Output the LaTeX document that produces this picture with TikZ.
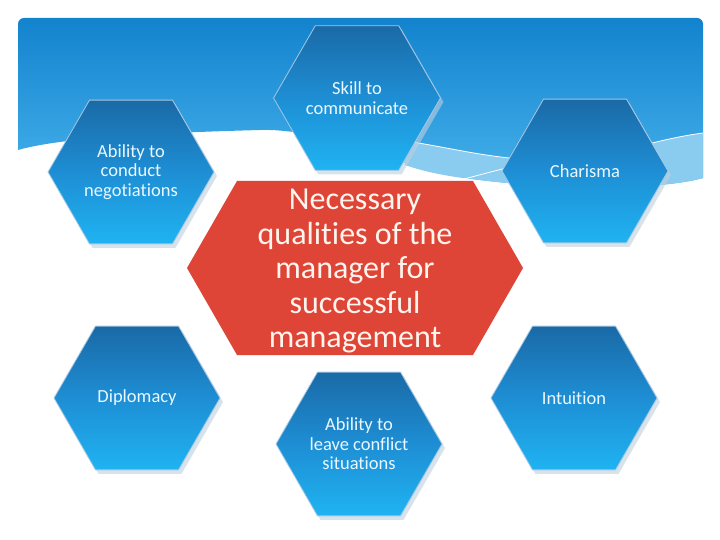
\documentclass[tikz,border=0pt]{standalone}
\usepackage{fontspec}
\setmainfont{Carlito}[Ligatures={NoCommon,NoRare}]
\usetikzlibrary{shapes.geometric,shadows}
\definecolor{hexTop}{HTML}{1A6AA6}
\definecolor{hexMid}{HTML}{1E8ED4}
\definecolor{hexBot}{HTML}{1FB3F2}
\definecolor{hexEdge}{HTML}{A6C8E4}
\definecolor{hexShadow}{HTML}{BFCFDF}
\definecolor{redFill}{HTML}{DE4537}
\definecolor{bannerTop}{HTML}{1383CE}
\definecolor{bannerBot}{HTML}{47B2EC}
\definecolor{bandLight}{HTML}{8ACBF0}
\definecolor{hexText}{HTML}{EAF8FF}
\definecolor{coreText}{HTML}{FFF4EE}
\begin{document}
\begin{tikzpicture}[x=1pt,y=-1pt,
  hexnode/.style={regular polygon, regular polygon sides=6, minimum size=166pt, inner sep=0pt,
    top color=hexTop, bottom color=hexBot, middle color=hexMid, draw=hexEdge, line width=0.8pt,
    drop shadow={shadow xshift=3pt, shadow yshift=-4pt, fill=hexShadow, opacity=0.6},
    text=hexText, align=center, font=\fontsize{18.5}{19.5}\selectfont},
  corefill/.style={fill=redFill},
  coretext/.style={align=center, text=coreText, inner sep=0pt, font=\fontsize{32}{34.5}\selectfont},
  wline/.style={draw=white, line width=0.8pt}]
\useasboundingbox (0,0) rectangle (720,540);
\fill[white] (0,0) rectangle (720,540);
% banner
\shade[top color=bannerTop, bottom color=bannerBot]
  (18,150) [rounded corners=6pt] -- (18,18) -- (703,18) [sharp corners] -- (703,178)
  .. controls (660,190) and (560,190) .. (480,180)
  .. controls (400,170) and (330,128) .. (260,130)
  .. controls (150,133) and (60,138) .. (18,150) -- cycle;
\fill[bandLight] (405,141) .. controls (450,147) and (500,162) .. (560,160)
  .. controls (610,158) and (650,140) .. (703,133) -- (703,178)
  .. controls (660,190) and (560,190) .. (480,180)
  .. controls (450,177) and (425,172) .. (405,165) -- cycle;
\path[wline] (405,141) .. controls (450,147) and (500,162) .. (560,160)
  .. controls (610,158) and (650,140) .. (703,133);
\path[wline] (440,185) .. controls (470,178) and (495,170) .. (525,164);
\path[wline] (200,139) .. controls (240,135) and (270,133) .. (300,132);
% hexagons
\node[hexnode] (skill) at (357,98) {Skill to\\communicate};
\node[hexnode] (nego) at (131,172) {Ability to\\conduct\\negotiations};
\node[hexnode] (char) at (585,171) {Charisma};
\node[hexnode] (dipl) at (137,398) {Diplomacy};
\node[hexnode] (intu) at (574,398) {Intuition};
\node[hexnode] (leave) at (359,444) {Ability to\\leave conflict\\situations};
% central
\fill[corefill] (237,181) -- (473,181) -- (523,268) -- (473,355) -- (237,355) -- (187,268) -- cycle;
\node[coretext] (core) at (355,271) {Necessary\\qualities of the\\manager for\\successful\\management};
\end{tikzpicture}
\end{document}
